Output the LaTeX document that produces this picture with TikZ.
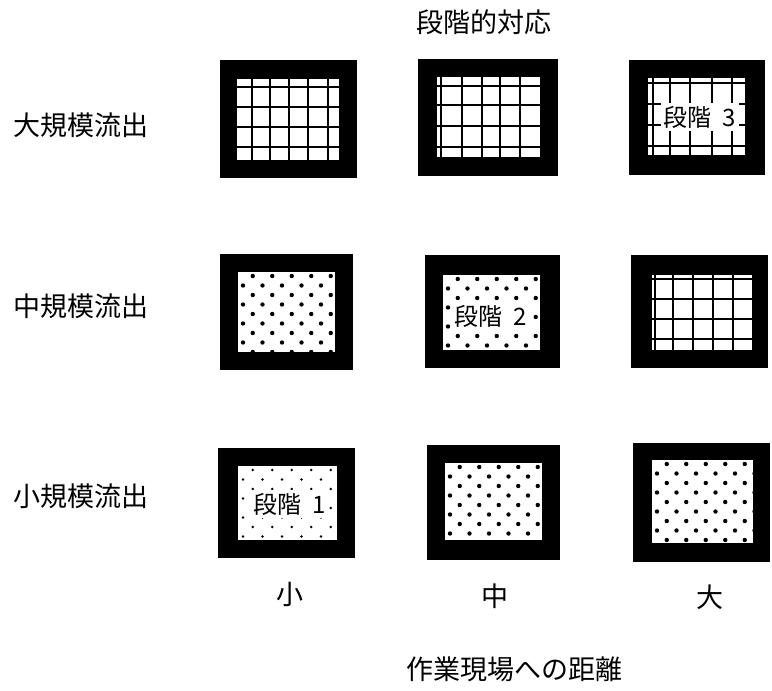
\documentclass[tikz,border=0pt]{standalone}
\usepackage{fontspec}
\setmainfont{Noto Sans CJK JP}
\tikzset{
  frame/.style={fill=black},
  pane/.style={fill=white},
  gridline/.style={line width=2.8pt, draw=black},
  lab/.style={font=\fontsize{27}{30}\selectfont, inner sep=0pt},
  stage/.style={fill=white, inner sep=3pt, font=\fontsize{24}{27}\selectfont},
  bigdot/.style={fill=black},
}
\newcommand\mkpanel[8]{%
  \fill[frame] (#1,#2) rectangle (#3,#4);
  \fill[pane] (#5,#6) rectangle (#7,#8);
}
\newcommand\mkdots[5]{% x1 y1 x2 y2 radius
  \begin{scope}
    \clip (#1,#2) rectangle (#3,#4);
    \foreach \r in {0,...,9}{
      \foreach \c in {0,...,6}{
        \fill[bigdot] ({#1+5+(1-mod(\r,2))*9.75+\c*19.5},{#2+4+\r*9.5}) circle (#5);
      }
    }
  \end{scope}
}
\newcommand\mkgrid[6]{% x1 y1 x2 y2 {xs} {ys}
  \begin{scope}
    \clip (#1,#2) rectangle (#3,#4);
    \foreach \gx in {#5}{ \draw[gridline] (\gx,#2) -- (\gx,#4); }
    \foreach \gy in {#6}{ \draw[gridline] (#1,\gy) -- (#3,\gy); }
  \end{scope}
}
\begin{document}
\begin{tikzpicture}[x=1pt,y=-1pt]
\useasboundingbox (0,0) rectangle (772,691);

% titles
\node[lab] (title) at (484,22) {段階的対応};
\node[lab, anchor=west] (rowL) at (13,125) {大規模流出};
\node[lab, anchor=west] (rowM) at (13,306) {中規模流出};
\node[lab, anchor=west] (rowS) at (13,496) {小規模流出};
\node[lab] (colS) at (290,594) {小};
\node[lab] (colM) at (495,596) {中};
\node[lab] (colL) at (710,597) {大};
\node[lab] (axis) at (514,669) {作業現場への距離};

% row 1 (large outflow)
\mkpanel{220}{60}{357}{178}{237}{79}{339}{160}
\mkgrid{237}{79}{339}{160}{252,270,289,308,328}{87,107,127,147}
\mkpanel{418}{59}{558}{176}{437}{77}{540}{157}
\mkgrid{437}{77}{540}{157}{441,462,482,500,520}{86,105,126,147}
\mkpanel{629}{60}{765}{175}{648}{78}{745}{155}
\mkgrid{648}{78}{745}{155}{653,670,690,712,732}{83,104,125,146}
\node[stage] (s3) at (700,117) {段階\hspace{0.45em}3};

% row 2 (medium outflow)
\mkpanel{220}{254}{353}{370}{238}{272}{335}{352}
\mkdots{238}{272}{335}{352}{2.2}
\mkpanel{425}{255}{560}{368}{443}{275}{540}{350}
\mkdots{443}{275}{540}{350}{2.2}
\node[stage] (s2) at (491,316) {段階\hspace{0.45em}2};
\mkpanel{631}{255}{768}{368}{652}{275}{752}{350}
\mkgrid{652}{275}{752}{350}{655,673,693,713,733}{279,299,319,339}

% row 3 (small outflow)
\mkpanel{218}{448}{355}{558}{238}{466}{337}{540}
\mkdots{238}{466}{337}{540}{1.4}
\node[stage] (s1) at (290,504) {段階\hspace{0.45em}1};
\mkpanel{427}{445}{560}{560}{445}{463}{542}{540}
\mkdots{445}{463}{542}{540}{2.2}
\mkpanel{633}{443}{770}{562}{652}{460}{753}{543}
\mkdots{652}{460}{753}{543}{2.2}
\end{tikzpicture}
\end{document}
